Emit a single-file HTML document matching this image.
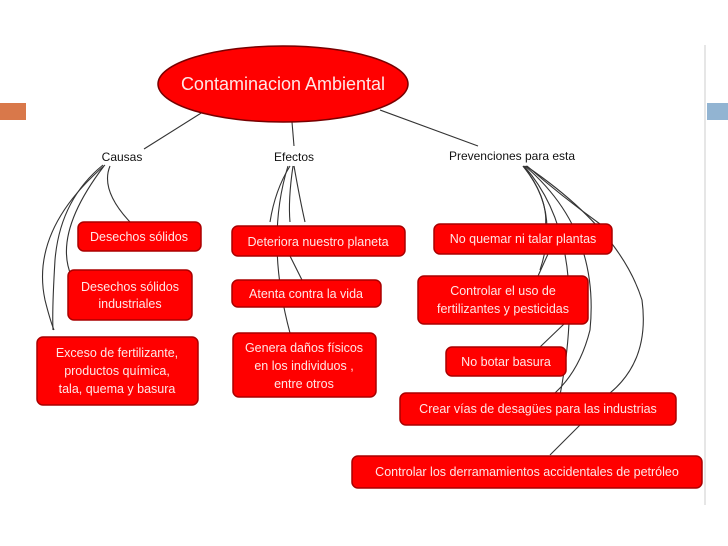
<!DOCTYPE html>
<html><head><meta charset="utf-8"><style>
html,body{margin:0;padding:0;background:#fff;}
svg{display:block;}
text{font-family:"Liberation Sans",sans-serif;}
.b{fill:#f00;stroke:#a00;stroke-width:1.5;}
.t{fill:#ffe6e6;font-size:12.5px;text-anchor:middle;}
.l{fill:none;stroke:#333;stroke-width:1.1;}
.k{fill:#111;font-size:12px;text-anchor:middle;}
</style></head><body>
<svg width="728" height="546" viewBox="0 0 728 546">
<rect x="0" y="103" width="26" height="17" fill="#d9784a"/>
<rect x="707" y="103" width="21" height="17" fill="#92b4d2"/>
<line x1="705" y1="45" x2="705" y2="505" stroke="#ccc" stroke-width="1"/>
<!-- connectors -->
<path class="l" d="M206 110 L144 149"/>
<path class="l" d="M292 122 L294 146"/>
<path class="l" d="M380 110 L478 146"/>
<path class="l" d="M103 165 Q60 200 55 260 Q52 310 53 330"/>
<path class="l" d="M105 165 Q30 230 45 300 Q50 320 54 330"/>
<path class="l" d="M104 166 Q40 250 85 296"/>
<path class="l" d="M110 166 Q100 190 130 222"/>
<path class="l" d="M290 166 Q275 190 270 222"/>
<path class="l" d="M293 166 Q288 200 290 222"/>
<path class="l" d="M294 166 Q300 200 305 222"/>
<path class="l" d="M288 166 Q265 240 290 333"/>
<path class="l" d="M290 256 L302 280"/>
<path class="l" d="M523 166 Q550 200 545 230"/>
<path class="l" d="M523 166 Q560 210 540 270"/>
<path class="l" d="M524 166 Q590 240 560 395"/>
<path class="l" d="M525 166 Q600 230 590 330 Q580 370 555 393"/>
<path class="l" d="M526 166 Q620 230 642 300 Q650 360 610 393"/>
<path class="l" d="M527 166 Q560 195 600 224"/>
<path class="l" d="M548 254 L538 276"/>
<path class="l" d="M564 324 L540 347"/>
<path class="l" d="M580 425 L550 455"/>
<!-- main ellipse -->
<ellipse cx="283" cy="84" rx="125" ry="38" fill="#f00" stroke="#700" stroke-width="1.5"/>
<text x="283" y="90" fill="#ffe6e6" font-size="18" text-anchor="middle">Contaminacion Ambiental</text>
<text class="k" x="122" y="161">Causas</text>
<text class="k" x="294" y="161">Efectos</text>
<text class="k" x="512" y="160">Prevenciones para esta</text>
<!-- boxes -->
<rect class="b" x="78" y="222" width="123" height="29" rx="6"/><text class="t" x="139" y="241">Desechos sólidos</text>
<rect class="b" x="68" y="270" width="124" height="50" rx="6"/><text class="t" x="130" y="291">Desechos sólidos</text><text class="t" x="130" y="308">industriales</text>
<rect class="b" x="37" y="337" width="161" height="68" rx="6"/><text class="t" x="117" y="357">Exceso de fertilizante,</text><text class="t" x="117" y="375">productos química,</text><text class="t" x="117" y="393">tala, quema y basura</text>
<rect class="b" x="232" y="226" width="173" height="30" rx="6"/><text class="t" x="318" y="246">Deteriora nuestro planeta</text>
<rect class="b" x="232" y="280" width="149" height="27" rx="6"/><text class="t" x="306" y="298">Atenta contra la vida</text>
<rect class="b" x="233" y="333" width="143" height="64" rx="6"/><text class="t" x="304" y="352">Genera daños físicos</text><text class="t" x="304" y="370">en los individuos ,</text><text class="t" x="304" y="388">entre otros</text>
<rect class="b" x="434" y="224" width="178" height="30" rx="6"/><text class="t" x="523" y="243">No quemar ni talar plantas</text>
<rect class="b" x="418" y="276" width="170" height="48" rx="6"/><text class="t" x="503" y="295">Controlar el uso de</text><text class="t" x="503" y="313">fertilizantes y pesticidas</text>
<rect class="b" x="446" y="347" width="120" height="29" rx="6"/><text class="t" x="506" y="366">No botar basura</text>
<rect class="b" x="400" y="393" width="276" height="32" rx="6"/><text class="t" x="538" y="413">Crear vías de desagües para las industrias</text>
<rect class="b" x="352" y="456" width="350" height="32" rx="6"/><text class="t" x="527" y="476">Controlar los derramamientos accidentales de petróleo</text>
</svg>
</body></html>
